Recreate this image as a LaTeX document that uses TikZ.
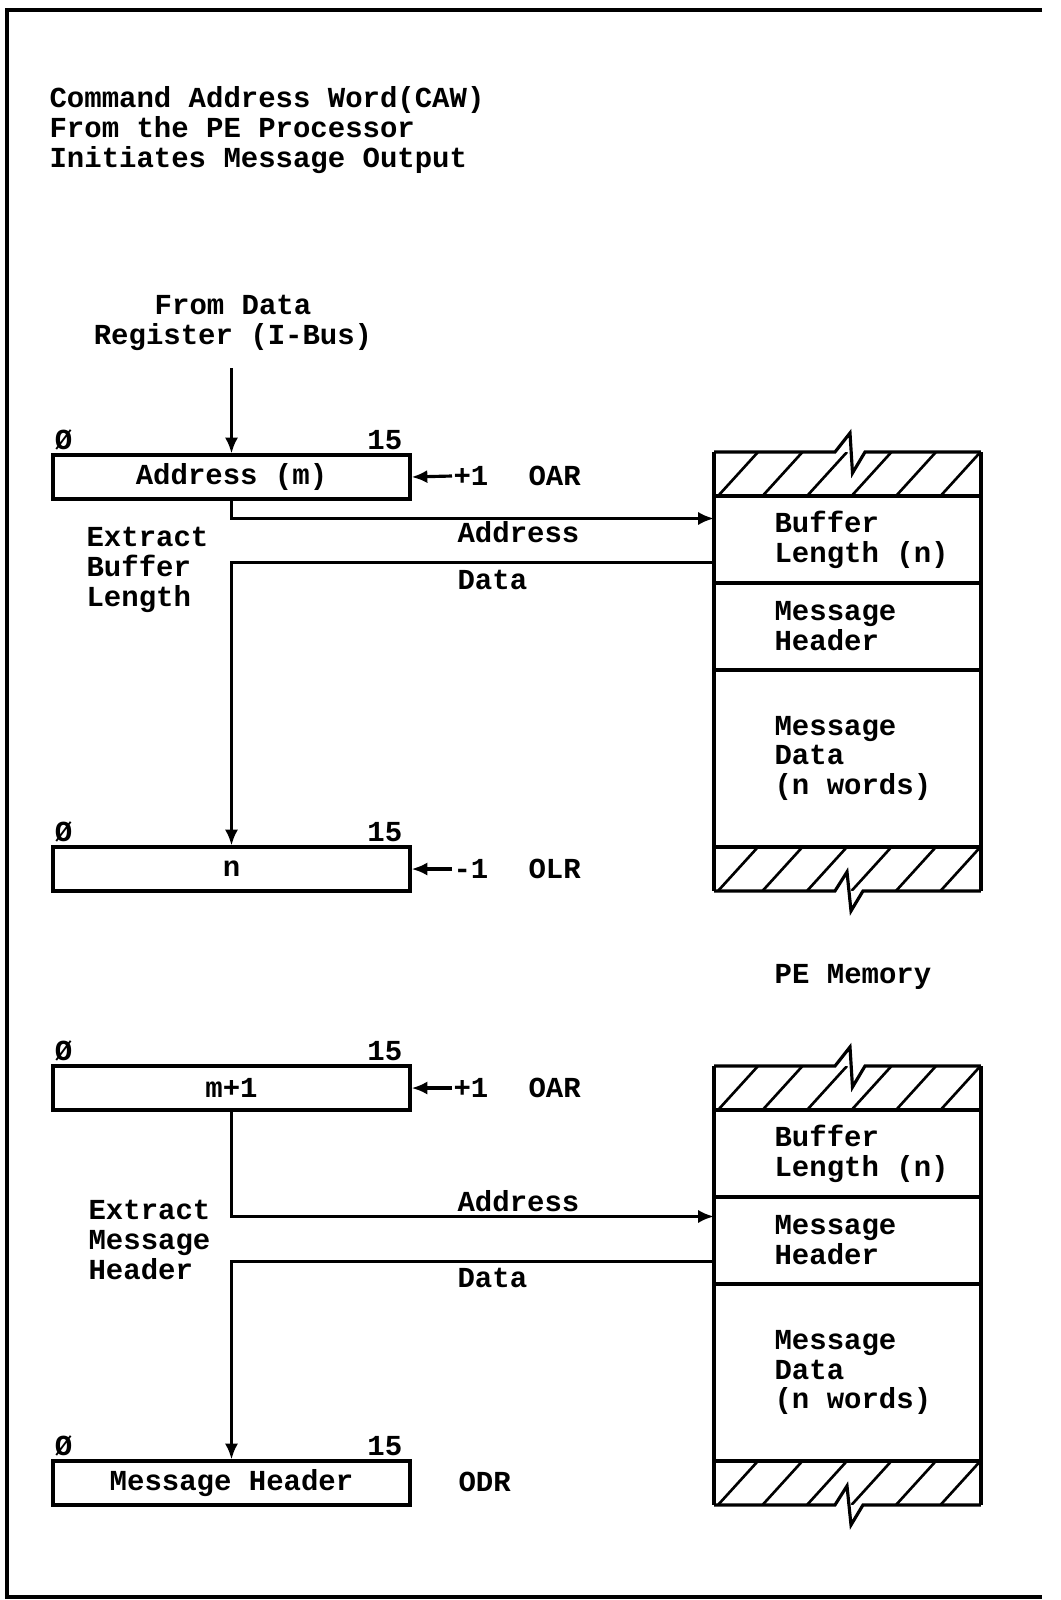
\documentclass[tikz,border=0pt]{standalone}
\usepackage{fontspec}
\setmainfont{Liberation Mono}
\usetikzlibrary{positioning,arrows.meta}

\tikzset{
  reg/.style={rectangle,draw,line width=1.8pt,minimum width=7.14cm,minimum height=0.88cm,inner sep=0pt},
  cell/.style={rectangle,draw,line width=1.8pt,minimum width=5.34cm,inner sep=0pt,outer sep=0pt},
  hatchcell/.style={rectangle,minimum width=5.34cm,minimum height=0.88cm,inner sep=0pt,outer sep=0pt},
  lbl/.style={inner sep=0pt,align=left},
  bitlbl/.style={inner sep=1pt},
  hatch/.style={line width=1.5pt},
}

\begin{document}
\begin{tikzpicture}[x=0.02cm,y=-0.02cm,line width=1.8pt,
    >={Latex[length=9pt,width=7.5pt]},
    font=\fontsize{16.5pt}{17.07pt}\selectfont\bfseries]
    \useasboundingbox (0,0) rectangle (1061,1600);

    % Frame (open to the right)
    \draw (1042,10) -- (7,10) -- (7,1597) -- (1042,1597);

    % Heading
    \node[lbl,anchor=west] (caw) at (48,130) {Command Address Word(CAW)\\From the PE Processor\\Initiates Message Output};

    % Source of the CAW
    \node[lbl,align=center,inner ysep=0.32cm] (fromdata) at (233,323) {From Data\\Register (I-Bus)};

    % Registers
    \node[reg] (reg1) at (231.5,477) {Address (m)};
    \node[reg] (reg2) at (231.5,869) {n};
    \node[reg] (reg3) at (231.5,1088) {m+1};
    \node[reg] (reg4) at (231.5,1483) {Message Header};

    % Bit numbers
    \foreach \r in {reg1,reg2,reg3,reg4} {
        \node[bitlbl,anchor=south west] (lo\r) at (\r.north west) {Ø};
        \node[bitlbl,anchor=south east] (hi\r) at ([xshift=-0.12cm]\r.north east) {15};
    }

    % Counter inputs
    \node[lbl,anchor=west] (inc1) at (452,476) {+1};
    \node[lbl,anchor=west] (oar1) at (527,476) {OAR};
    \node[lbl,anchor=west] (dec1) at (452,869) {-1};
    \node[lbl,anchor=west] (olr1) at (527,869) {OLR};
    \node[lbl,anchor=west] (inc2) at (452,1088) {+1};
    \node[lbl,anchor=west] (oar2) at (527,1088) {OAR};
    \node[lbl,anchor=west] (odr) at (457,1482) {ODR};

    % Memory blocks
    \node[hatchcell] (top1) at (847.5,474) {};
    \node[cell,minimum height=1.74cm,below=0pt of top1] (buf1) {};
    \node[cell,minimum height=1.74cm,below=0pt of buf1] (hdr1) {};
    \node[cell,minimum height=3.54cm,below=0pt of hdr1] (dat1) {};
    \node[hatchcell,below=0pt of dat1] (bot1) {};

    \node[hatchcell] (top2) at (847.5,1088) {};
    \node[cell,minimum height=1.74cm,below=0pt of top2] (buf2) {};
    \node[cell,minimum height=1.74cm,below=0pt of buf2] (hdr2) {};
    \node[cell,minimum height=3.54cm,below=0pt of hdr2] (dat2) {};
    \node[hatchcell,below=0pt of dat2] (bot2) {};

    \foreach \m in {1,2} {
        \node[lbl,anchor=west] (buftxt\m) at ([xshift=1.18cm]buf\m.west) {Buffer\\Length (n)};
        \node[lbl,anchor=west] (hdrtxt\m) at ([xshift=1.18cm]hdr\m.west) {Message\\Header};
        \node[lbl,anchor=west] (dattxt\m) at ([xshift=1.18cm]dat\m.west) {Message\\Data\\(n words)};
        % hatching
        \foreach \c in {top\m,bot\m} {
            \begin{scope}
                \clip (\c.south west) rectangle (\c.north east);
                \foreach \k in {0,...,5}
                    \draw[hatch] ([xshift=\k*0.89cm+0.08cm]\c.south west) -- ++(0.8cm,0.88cm);
            \end{scope}
        }
        % outline with break marks
        \draw (top\m.north west) -- (bot\m.south west);
        \draw (top\m.north east) -- (bot\m.south east);
        \draw (top\m.north west) -- ++(2.42cm,0) -- ++(0.3cm,0.38cm) -- ++(0.05cm,-0.8cm) -- ++(0.25cm,0.42cm) -- (top\m.north east);
        \draw (bot\m.south west) -- ++(2.42cm,0) -- ++(0.24cm,0.38cm) -- ++(0.08cm,-0.78cm) -- ++(0.24cm,0.4cm) -- (bot\m.south east);
    }

    \node[lbl] (pemem) at (853,977) {PE Memory};

    % Labels
    \node[lbl,anchor=west] (extract1) at (85,570) {Extract\\Buffer\\Length};
    \node[lbl,anchor=west] (addr1) at (456,532) {Address};
    \node[lbl,anchor=west] (data1) at (456,580) {Data};
    \node[lbl,anchor=west] (extract2) at (87,1240) {Extract\\Message\\Header};
    \node[lbl,anchor=west] (addr2) at (456,1201) {Address};
    \node[lbl,anchor=west] (data2) at (456,1278) {Data};

    % Arrows
    \draw[->] (fromdata.south -| reg1.north) -- (reg1.north);
    \foreach \i/\j in {inc1/reg1, dec1/reg2, inc2/reg3} {
        \draw[->] (\i.west) -- (\j.east);
    }
    \draw[->] (reg1.south) |- ([yshift=0.42cm]buf1.west);
    \draw[->] ([yshift=-0.46cm]buf1.west) -| (reg2.north);
    \draw[->] (reg3.south) |- ([yshift=0.48cm]hdr2.west);
    \draw[->] ([yshift=-0.42cm]hdr2.west) -| (reg4.north);
\end{tikzpicture}
\end{document}
